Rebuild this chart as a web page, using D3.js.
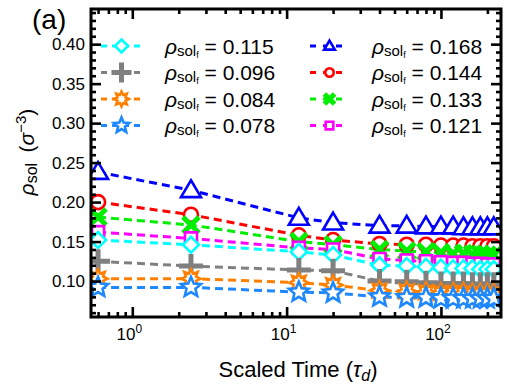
<!DOCTYPE html>
<html><head><meta charset="utf-8">
<script src="https://cdn.jsdelivr.net/npm/d3@7"></script>
<style>
body{margin:0;background:#fff}
svg{display:block;font-family:"Liberation Sans",Arial,Helvetica,sans-serif}
</style>
</head><body>
<svg id="chart" width="507" height="387"></svg>
<script>
// Scaled time points (tau_d)
const times = [0.6, 2.4, 12, 20, 40, 60, 80, 100, 120, 140, 160, 180, 200, 220];

// Solvent density (sigma^-3) for each run
const rhoA = [0.238, 0.215, 0.180, 0.174, 0.170, 0.170, 0.169, 0.169, 0.169, 0.168, 0.168, 0.168, 0.168, 0.168]; // 0.168
const rhoB = [0.200, 0.184, 0.158, 0.152, 0.147, 0.146, 0.146, 0.145, 0.145, 0.145, 0.144, 0.144, 0.144, 0.144]; // 0.144
const rhoC = [0.181, 0.171, 0.150, 0.146, 0.140, 0.138, 0.137, 0.136, 0.135, 0.135, 0.134, 0.134, 0.133, 0.133]; // 0.133
const rhoD = [0.162, 0.154, 0.142, 0.140, 0.128, 0.126, 0.125, 0.124, 0.123, 0.123, 0.122, 0.122, 0.121, 0.121]; // 0.121
const rhoE = [0.152, 0.146, 0.137, 0.133, 0.120, 0.119, 0.118, 0.117, 0.116, 0.116, 0.116, 0.115, 0.115, 0.115]; // 0.115
const rhoF = [0.125, 0.119, 0.114, 0.113, 0.100, 0.099, 0.098, 0.097, 0.097, 0.097, 0.096, 0.096, 0.096, 0.096]; // 0.096
const rhoG = [0.103, 0.103, 0.098, 0.095, 0.088, 0.087, 0.086, 0.085, 0.085, 0.085, 0.084, 0.084, 0.084, 0.084]; // 0.084
const rhoH = [0.092, 0.092, 0.086, 0.085, 0.080, 0.079, 0.079, 0.078, 0.078, 0.078, 0.078, 0.078, 0.078, 0.078]; // 0.078

// Legend values (final solvent density)
const finalLabels = ["0.168", "0.144", "0.133", "0.121", "0.115", "0.096", "0.084", "0.078"];

// Axis ticks
const yMajor = [0.10, 0.15, 0.20, 0.25, 0.30, 0.35, 0.40];
const yMinor = d3.range(6, 45).map(d => d / 100).filter(d => Math.round(d * 100) % 5 !== 0);
const xMajor = [1, 10, 100];
const xMinor = [0.6, 0.7, 0.8, 0.9, 2, 3, 4, 5, 6, 7, 8, 9, 20, 30, 40, 50, 60, 70, 80, 90, 200];

// Marker shapes, each a path centred on the origin
const shapes = {
  triangle: r => `M0,${-r*1.05}L${r*1.05},${r*0.72}L${-r*1.05},${r*0.72}Z`,
  circle: r => `M${r},0A${r},${r} 0 1,1 ${-r},0A${r},${r} 0 1,1 ${r},0Z`,
  cross: r => `M${-r},${-r}L${r},${r}M${r},${-r}L${-r},${r}`,
  square: r => `M${-r},${-r}H${r}V${r}H${-r}Z`,
  diamond: r => `M0,${-r}L${r},0L0,${r}L${-r},0Z`,
  plus: r => `M${-r},0H${r}M0,${-r}V${r}`,
  burst: r => starPath(8, r, r * 0.58),
  star: r => starPath(5, r, r * 0.45)
};
function starPath(n, ro, ri) {
  const pts = [];
  for (let i = 0; i < 2 * n; i++) {
    const a = -Math.PI / 2 + i * Math.PI / n;
    const rr = i % 2 ? ri : ro;
    pts.push([rr * Math.cos(a), rr * Math.sin(a)]);
  }
  return "M" + pts.map(p => p[0].toFixed(2) + "," + p[1].toFixed(2)).join("L") + "Z";
}

const series = [
  {values: rhoA, label: finalLabels[0], color: "#0000ff", shape: "triangle", size: 9.5, lsize: 6,  sw: 2.6, fill: "#fff"},
  {values: rhoB, label: finalLabels[1], color: "#ff0000", shape: "circle",   size: 7,   lsize: 5,  sw: 2.6, fill: "#fff"},
  {values: rhoC, label: finalLabels[2], color: "#00ee00", shape: "cross",    size: 8,   lsize: 6,  sw: 5,   fill: "none"},
  {values: rhoD, label: finalLabels[3], color: "#ff00ff", shape: "square",   size: 6,   lsize: 4.5,sw: 2.6, fill: "#fff"},
  {values: rhoE, label: finalLabels[4], color: "#00ffff", shape: "diamond",  size: 8,   lsize: 6.5,sw: 2.6, fill: "#fff"},
  {values: rhoF, label: finalLabels[5], color: "#808080", shape: "plus",     size: 12,  lsize: 10, sw: 5,   fill: "none"},
  {values: rhoG, label: finalLabels[6], color: "#ff8000", shape: "burst",    size: 9.5, lsize: 7.5,sw: 2.6, fill: "#fff"},
  {values: rhoH, label: finalLabels[7], color: "#1e88ff", shape: "star",     size: 10.5,lsize: 8,  sw: 2.6, fill: "#fff"}
];

const L = 91, R = 501, T = 9, B = 317;

const x = d3.scaleLog().domain([0.54, 245]).range([L, R]);
const y = d3.scaleLinear().domain([0.0545, 0.4445]).range([B, T]);

const svg = d3.select("#chart");

svg.append("defs").append("clipPath").attr("id", "plotClip")
  .append("rect").attr("x", L).attr("y", T).attr("width", R - L).attr("height", B - T);

const plot = svg.append("g").attr("clip-path", "url(#plotClip)");

// Dashed connecting lines
const line = d3.line().x((d, i) => x(times[i])).y(d => y(d));
series.forEach(s => {
  plot.append("path")
    .attr("d", line(s.values))
    .attr("fill", "none")
    .attr("stroke", s.color)
    .attr("stroke-width", 3)
    .attr("stroke-dasharray", "8,5");
});

// Markers
series.forEach(s => {
  plot.append("g").selectAll("path").data(s.values).join("path")
    .attr("transform", (d, i) => `translate(${x(times[i])},${y(d)})`)
    .attr("d", shapes[s.shape](s.size))
    .attr("fill", s.fill)
    .attr("stroke", s.color)
    .attr("stroke-width", s.sw)
    .attr("stroke-linejoin", "miter");
});

// Axes: ticks point inward on all four sides
const axisG = svg.append("g");
function ticks(axisFn, scale, vals, size, transform) {
  axisG.append("g").attr("transform", transform)
    .call(axisFn(scale).tickValues(vals).tickSize(size).tickFormat(""))
    .call(g => g.select(".domain").remove())
    .call(g => g.selectAll("line").attr("stroke", "#000").attr("stroke-width", 2.6));
}
ticks(d3.axisBottom, x, xMajor, -10, `translate(0,${B})`);
ticks(d3.axisBottom, x, xMinor, -5, `translate(0,${B})`);
ticks(d3.axisTop, x, xMajor, -10, `translate(0,${T})`);
ticks(d3.axisTop, x, xMinor, -5, `translate(0,${T})`);
ticks(d3.axisLeft, y, yMajor, -10, `translate(${L},0)`);
ticks(d3.axisLeft, y, yMinor, -5, `translate(${L},0)`);
ticks(d3.axisRight, y, yMajor, -10, `translate(${R},0)`);
ticks(d3.axisRight, y, yMinor, -5, `translate(${R},0)`);

// Frame
axisG.append("rect").attr("x", L).attr("y", T).attr("width", R - L).attr("height", B - T)
  .attr("fill", "none").attr("stroke", "#000").attr("stroke-width", 3);

// Y tick labels
svg.append("g").selectAll("text").data(yMajor).join("text")
  .attr("x", L - 6).attr("y", d => y(d) + 6)
  .attr("text-anchor", "end").attr("font-size", 17)
  .text(d => d.toFixed(2));

// X tick labels as powers of ten
svg.append("g").selectAll("text").data(xMajor).join("text")
  .attr("x", d => x(d) - 3).attr("y", 340)
  .attr("text-anchor", "middle").attr("font-size", 17)
  .each(function(d) {
    const t = d3.select(this);
    t.append("tspan").text("10");
    t.append("tspan").attr("font-size", 12).attr("dy", -7).text(Math.round(Math.log10(d)));
  });

// Axis titles
const xt = svg.append("text").attr("x", 298).attr("y", 377)
  .attr("text-anchor", "middle").attr("font-size", 22);
xt.append("tspan").text("Scaled Time (");
xt.append("tspan").attr("font-style", "italic").text("τ");
xt.append("tspan").attr("font-style", "italic").attr("font-size", 16).attr("dy", 4).text("d");
xt.append("tspan").attr("dy", -4).text(")");

const yt = svg.append("text").attr("transform", "translate(34,152) rotate(-90)")
  .attr("text-anchor", "middle").attr("font-size", 21);
yt.append("tspan").attr("font-style", "italic").text("ρ");
yt.append("tspan").attr("font-size", 16).attr("dy", 3).text("sol");
yt.append("tspan").attr("dy", -3).text("\u2002(");
yt.append("tspan").attr("font-style", "italic").text("σ");
yt.append("tspan").attr("font-size", 15).attr("dy", -8).text("−3");
yt.append("tspan").attr("dy", 8).text(")");

// Panel tag
svg.append("text").attr("x", 32).attr("y", 29).attr("font-size", 28).text("(a)");

// Legend in two columns
const legendCols = [
  {items: [4, 5, 6, 7], x0: 101, x1: 142, tx: 165, big: true},
  {items: [0, 1, 2, 3], x0: 310, x1: 349, tx: 372, big: false}
];
const rowY = [46, 72.5, 99, 125.5];
legendCols.forEach(col => {
  col.items.forEach((si, r) => {
    const s = series[si];
    const g = svg.append("g");
    const cy = rowY[r];
    const mx = (col.x0 + col.x1) / 2;
    g.append("line").attr("x1", col.x0).attr("x2", col.x1).attr("y1", cy).attr("y2", cy)
      .attr("stroke", s.color).attr("stroke-width", 3)
      .attr("stroke-dasharray", col.big ? "6,5" : "6,7");
    g.append("path").attr("transform", `translate(${mx},${cy})`)
      .attr("d", shapes[s.shape](col.big ? s.lsize : s.lsize * 0.85))
      .attr("fill", s.fill).attr("stroke", s.color).attr("stroke-width", s.sw);
    const t = g.append("text").attr("x", col.tx).attr("y", cy + 7.5).attr("font-size", 21);
    t.append("tspan").attr("font-style", "italic").text("ρ");
    t.append("tspan").attr("font-size", 15).attr("dy", 2).text("sol");
    t.append("tspan").attr("font-size", 9).attr("dy", 2).text("f");
    t.append("tspan").attr("dy", -4).text(" = " + s.label);
  });
});
</script>
</body></html>
